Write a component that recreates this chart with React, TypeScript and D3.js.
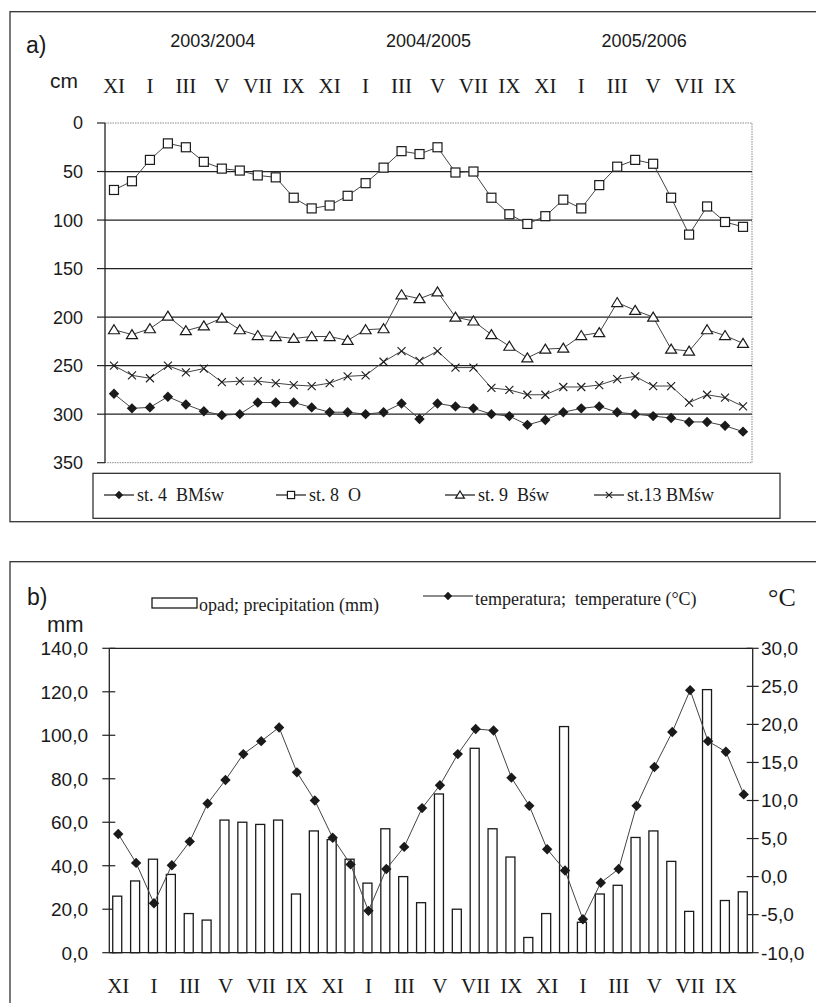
import React from 'react'
import * as d3 from 'd3'

// months Nov 2003 .. Oct 2006
const MONTHS = [
    'XI', 'XII', 'I', 'II', 'III', 'IV', 'V', 'VI', 'VII', 'VIII', 'IX', 'X',
    'XI', 'XII', 'I', 'II', 'III', 'IV', 'V', 'VI', 'VII', 'VIII', 'IX', 'X',
    'XI', 'XII', 'I', 'II', 'III', 'IV', 'V', 'VI', 'VII', 'VIII', 'IX', 'X',
]
const KEYS = MONTHS.map((m, i) => `${i}-${m}`)
const SEASONS = ['2003/2004', '2004/2005', '2005/2006']

// groundwater depth (cm)
const ST4 = [279, 294, 293, 282, 290, 297, 301, 300, 288, 288, 288, 293, 298, 298, 300, 298, 289, 305,
    289, 292, 294, 300, 302, 311, 306, 298, 294, 292, 298, 300, 302, 304, 308, 308, 312, 318]
const ST8 = [69, 60, 38, 21, 25, 40, 47, 49, 54, 56, 77, 88, 85, 75, 62, 46, 29, 32,
    25, 51, 50, 77, 94, 104, 96, 79, 88, 64, 45, 38, 42, 77, 115, 86, 102, 107]
const ST9 = [213, 218, 212, 199, 214, 209, 201, 213, 219, 220, 222, 220, 220, 224, 213, 212, 177, 181,
    174, 200, 204, 218, 230, 242, 233, 232, 219, 216, 185, 193, 200, 233, 235, 213, 219, 227]
const ST13 = [250, 260, 263, 250, 257, 253, 267, 266, 266, 268, 270, 271, 268, 261, 260, 246, 235, 245,
    235, 252, 252, 273, 275, 280, 280, 272, 272, 270, 264, 261, 271, 271, 288, 280, 283, 292]

// weather
const PRECIP = [26, 33, 43, 36, 18, 15, 61, 60, 59, 61, 27, 56, 52, 43, 32, 57, 35, 23,
    73, 20, 94, 57, 44, 7, 18, 104, 14, 27, 31, 53, 56, 42, 19, 121, 24, 28]
const TEMP = [5.6, 1.8, -3.5, 1.5, 4.6, 9.6, 12.7, 16.1, 17.8, 19.6, 13.7, 10.0, 5.1, 1.6, -4.5, 1.0, 3.9, 9.0,
    12.0, 16.1, 19.4, 19.2, 13.0, 9.3, 3.6, 0.8, -5.6, -0.8, 1.0, 9.3, 14.4, 19.0, 24.5, 17.8, 16.4, 10.8]

const DEPTH_TICKS = [0, 50, 100, 150, 200, 250, 300, 350]
const PRECIP_TICKS = [0, 20, 40, 60, 80, 100, 120, 140]
const TEMP_TICKS = [-10, -5, 0, 5, 10, 15, 20, 25, 30]

const SANS = "'Liberation Sans', Arial, sans-serif"
const SERIF = "'Liberation Serif', 'Times New Roman', serif"
const INK = '#1a1a1a'

type Marker = 'diamond' | 'square' | 'triangle' | 'cross'

const marker = (kind: Marker, x: number, y: number, key: string | number, s = 1) => {
    if (kind === 'diamond') {
        const r = 5.2 * s
        return <path key={key} d={`M${x},${y - r}L${x + r},${y}L${x},${y + r}L${x - r},${y}Z`} fill={INK}/>
    }
    if (kind === 'square') {
        const r = 4.5 * s
        return <rect key={key} x={x - r} y={y - r} width={2 * r} height={2 * r} fill="#fff" stroke={INK} strokeWidth={1.2}/>
    }
    if (kind === 'triangle') {
        const r = 5 * s
        return <path key={key} d={`M${x},${y - r}L${x + r * 1.1},${y + r * 0.8}L${x - r * 1.1},${y + r * 0.8}Z`}
                     fill="#fff" stroke={INK} strokeWidth={1.2}/>
    }
    const r = 4 * s
    return <path key={key} d={`M${x - r},${y - r}L${x + r},${y + r}M${x + r},${y - r}L${x - r},${y + r}`}
                 stroke={INK} strokeWidth={1.1}/>
}

const fmt = (v: number) => v.toFixed(1).replace('.', ',')

const PanelA = () => {
    const x = d3.scaleBand<string>().domain(KEYS).range([105, 752]).padding(0)
    const y = d3.scaleLinear().domain([0, 350]).range([123, 462.7])
    const cx = (i: number) => x(KEYS[i])! + x.bandwidth() / 2
    const line = d3.line<number>().x((_, i) => cx(i)).y((d) => y(d))

    const series: { name: string; data: number[]; kind: Marker }[] = [
        {name: 'st.13 BMśw', data: ST13, kind: 'cross'},
        {name: 'st. 9  Bśw', data: ST9, kind: 'triangle'},
        {name: 'st. 8  O', data: ST8, kind: 'square'},
        {name: 'st. 4  BMśw', data: ST4, kind: 'diamond'},
    ]
    const legend = [
        {name: 'st. 4  BMśw', kind: 'diamond' as Marker, x0: 104},
        {name: 'st. 8  O', kind: 'square' as Marker, x0: 276},
        {name: 'st. 9  Bśw', kind: 'triangle' as Marker, x0: 445},
        {name: 'st.13 BMśw', kind: 'cross' as Marker, x0: 594},
    ]
    const [x0, x1] = x.range()
    const [y0, y1] = y.range()

    return (
        <g>
            <rect x={10} y={11.7} width={810} height={510} fill="none" stroke="#333" strokeWidth={1.3}/>
            <text x={26} y={53} fontFamily={SANS} fontSize={23} fill={INK}>a)</text>
            {SEASONS.map((s, k) => (
                <text key={s} x={x(KEYS[k * 12])! + 6 * x.bandwidth()} y={46.5} textAnchor="middle"
                      fontFamily={SANS} fontSize={18} fill={INK}>{s}</text>
            ))}
            <text x={50} y={88} fontFamily={SANS} fontSize={21} fill={INK}>cm</text>
            {MONTHS.map((m, i) => i % 2 === 0 && (
                <text key={i} x={cx(i)} y={93} textAnchor="middle" fontFamily={SERIF} fontSize={21}
                      fill={INK}>{m}</text>
            ))}

            {/* plot frame: dotted top/right/bottom */}
            <path d={`M${x0},${y0}H${x1}V${y1}H${x0}`} fill="none" stroke="#888" strokeWidth={1}
                  strokeDasharray="1.5,1"/>
            {DEPTH_TICKS.filter((t) => t > 0 && t < 350).map((t) => (
                <line key={t} x1={x0} x2={x1} y1={y(t)} y2={y(t)} stroke="#222" strokeWidth={1.2}/>
            ))}
            <line x1={x0} x2={x0} y1={y0} y2={y1} stroke="#222" strokeWidth={1.3}/>
            {DEPTH_TICKS.map((t) => (
                <g key={t}>
                    <line x1={x0 - 8} x2={x0} y1={y(t)} y2={y(t)} stroke="#222" strokeWidth={1.2}/>
                    <text x={83} y={y(t)} dy="0.36em" textAnchor="end" fontFamily={SANS} fontSize={18}
                          fill={INK}>{t}</text>
                </g>
            ))}

            {series.map((s) => (
                <g key={s.name}>
                    <path d={line(s.data)!} fill="none" stroke="#444" strokeWidth={1}/>
                    {s.data.map((v, i) => marker(s.kind, cx(i), y(v), i))}
                </g>
            ))}

            <rect x={93} y={473.3} width={687} height={45} fill="#fff" stroke="#222" strokeWidth={1.2}/>
            {legend.map((l) => (
                <g key={l.name}>
                    <line x1={l.x0} x2={l.x0 + 30} y1={495} y2={495} stroke={INK} strokeWidth={1.2}/>
                    {marker(l.kind, l.x0 + 15, 495, 'm', 0.8)}
                    <text x={l.x0 + 33} y={501} fontFamily={SERIF} fontSize={18} fill={INK}
                          style={{whiteSpace: 'pre'}}>{l.name}</text>
                </g>
            ))}
        </g>
    )
}

const PanelB = () => {
    const x = d3.scaleBand<string>().domain(KEYS).range([109.3, 752.7]).padding(0)
    const yP = d3.scaleLinear().domain([0, 140]).range([952.7, 648.3])
    const yT = d3.scaleLinear().domain([-10, 30]).range([952.7, 648.3])
    const cx = (i: number) => x(KEYS[i])! + x.bandwidth() / 2
    const line = d3.line<number>().x((_, i) => cx(i)).y((d) => yT(d))
    const [x0, x1] = x.range()
    const barW = 9

    return (
        <g>
            <rect x={10} y={561.7} width={810} height={460} fill="none" stroke="#333" strokeWidth={1.3}/>
            <text x={27} y={605} fontFamily={SANS} fontSize={23} fill={INK}>b)</text>
            <rect x={152} y={598} width={45} height={10} fill="#fff" stroke={INK} strokeWidth={1.3}/>
            <text x={199} y={611} fontFamily={SERIF} fontSize={18} fill={INK}>opad; precipitation (mm)</text>
            <line x1={423} x2={473} y1={596} y2={596} stroke={INK} strokeWidth={1.2}/>
            {marker('diamond', 448, 596, 'lg', 0.8)}
            <text x={475} y={605} fontFamily={SERIF} fontSize={18} fill={INK}
                  style={{whiteSpace: 'pre'}}>{'temperatura;  temperature (°C)'}</text>
            <text x={768} y={606} fontFamily={SERIF} fontSize={26} fill={INK}>°C</text>
            <text x={47} y={632} fontFamily={SANS} fontSize={22} fill={INK}>mm</text>

            <line x1={x0} x2={x1} y1={yP(140)} y2={yP(140)} stroke="#222" strokeWidth={1.2}/>
            <line x1={x0} x2={x1} y1={yP(0)} y2={yP(0)} stroke="#222" strokeWidth={1.3}/>
            <line x1={x0} x2={x0} y1={yP(0)} y2={yP(140)} stroke="#222" strokeWidth={1.3}/>
            <line x1={x1} x2={x1} y1={yP(0)} y2={yP(140)} stroke="#222" strokeWidth={1.3}/>
            {PRECIP_TICKS.map((t) => (
                <g key={t}>
                    <line x1={x0 - 7} x2={x0 + 6} y1={yP(t)} y2={yP(t)} stroke="#222" strokeWidth={1.2}/>
                    <text x={88} y={yP(t)} dy="0.36em" textAnchor="end" fontFamily={SANS} fontSize={19}
                          fill={INK}>{fmt(t)}</text>
                </g>
            ))}
            {TEMP_TICKS.map((t) => (
                <g key={t}>
                    <line x1={x1 - 6} x2={x1 + 6} y1={yT(t)} y2={yT(t)} stroke="#222" strokeWidth={1.2}/>
                    <text x={761} y={yT(t)} dy="0.36em" fontFamily={SANS} fontSize={19}
                          fill={INK}>{fmt(t)}</text>
                </g>
            ))}

            {PRECIP.map((v, i) => (
                <rect key={i} x={cx(i) - barW / 2 - 1} y={yP(v)} width={barW} height={yP(0) - yP(v)}
                      fill="#fff" stroke={INK} strokeWidth={1.3}/>
            ))}
            <path d={line(TEMP)!} fill="none" stroke="#444" strokeWidth={1}/>
            {TEMP.map((v, i) => marker('diamond', cx(i), yT(v), i))}

            {MONTHS.map((m, i) => i % 2 === 0 && (
                <text key={i} x={cx(i)} y={993} textAnchor="middle" fontFamily={SERIF} fontSize={21}
                      fill={INK}>{m}</text>
            ))}
        </g>
    )
}

export default function App() {
    return (
        <div style={{position: 'absolute', left: 0, top: 0}}>
            <svg width={816} height={1003} style={{display: 'block', background: '#fff'}}>
                <PanelA/>
                <PanelB/>
            </svg>
        </div>
    )
}
